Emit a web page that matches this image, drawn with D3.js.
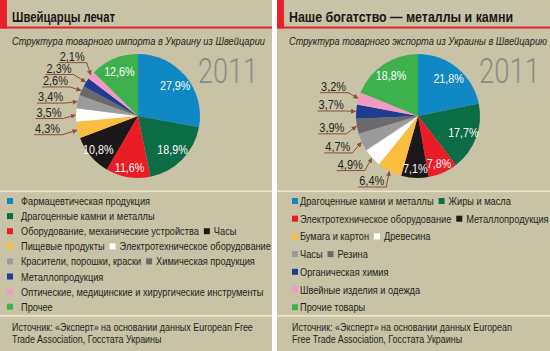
<!DOCTYPE html>
<html><head><meta charset="utf-8">
<script src="https://cdn.jsdelivr.net/npm/d3@7"></script>
<style>body{margin:0;background:#fff}svg{display:block}</style>
</head><body>
<script>
// ---------- DATA ----------
const leftCategories = ["Фармацевтическая продукция", "Драгоценные камни и металлы", "Оборудование, механические устройства", "Часы", "Пищевые продукты", "Электротехническое оборудование", "Красители, порошки, краски", "Химическая продукция", "Металлопродукция", "Оптические, медицинские и хирургические инструменты", "Прочее"];
const leftValues = [27.9, 18.9, 11.6, 10.8, 4.3, 3.5, 3.4, 2.6, 2.3, 2.1, 12.6];
const rightCategories = ["Драгоценные камни и металлы", "Жиры и масла", "Электротехническое оборудование", "Металлопродукция", "Бумага и картон", "Древесина", "Часы", "Резина", "Органическая химия", "Швейные изделия и одежда", "Прочие товары"];
const rightValues = [21.8, 17.7, 7.8, 7.1, 6.4, 4.9, 4.7, 3.9, 3.7, 3.2, 18.8];
const sliceColors = ["#0f88c4", "#0b6c45", "#ec1c26", "#1c1819", "#fbbd3e", "#ffffff", "#9b9b9d", "#6a6a6c", "#1f3c92", "#f29ac2", "#3db14b"];
const yearLabel = "2011";
const leftTitle = "Швейцарцы лечат";
const leftSubtitle = "Структура товарного импорта в Украину из Швейцарии";
const rightTitle = "Наше богатство — металлы и камни";
const rightSubtitle = "Структура товарного экспорта из Украины в Швейцарию";
const leftSource = ["Источник: «Эксперт» на основании данных European Free", "Trade Association, Госстата Украины"];
const rightSource = ["Источник: «Эксперт» на основании данных European", "Free Trade Association, Госстата Украины"];

// ---------- LAYOUT ----------
const W = 550, H = 351;
const BG = "#c8c2a6", RED = "#e8202a", LINE = "#eee7ca", ARROW = "#8c5038";
const FONT = "'Liberation Sans', Arial, sans-serif";
const panels = [
  {x0: 0, w: 272, title: leftTitle, titleW: 103, sub: leftSubtitle, subW: 253, textX: 12,
   cats: leftCategories, vals: leftValues, cx: 138, cy: 116, r: 62, yearX: 198, yearW: 60,
   rows: [[0],[1],[2,3],[4,5],[6,7],[8],[9],[10]], legTop: 201, legStep: 15.1, swX: 7, legX: 21,
   callouts: {4:[-17,-2],5:[-14,-3],6:[-14,-5],7:[-13,-10],8:[-14,-14],9:[-6,-19]},
   source: leftSource, srcX: 12},
  {x0: 277, w: 273, title: rightTitle, titleW: 224, sub: rightSubtitle, subW: 258, textX: 289,
   cats: rightCategories, vals: rightValues, cx: 418, cy: 116, r: 62, yearX: 479, yearW: 61,
   rows: [[0,1],[2,3],[4,5],[6,7],[8],[9],[10]], legTop: 201, legStep: 17.7, swX: 292, legX: 300,
   callouts: {4:[-5,9],5:[-9,6],6:[-11,4],7:[-12,1],8:[-12,-7],9:[-12,-12]},
   source: rightSource, srcX: 292}
];

const svg = d3.select("body").append("svg").attr("width", W).attr("height", H)
  .style("font-family", FONT);
svg.append("rect").attr("width", W).attr("height", H).attr("fill", "#fff");
const defs = svg.append("defs");
defs.append("marker").attr("id", "arr").attr("viewBox", "0 0 6 6")
  .attr("refX", 5.5).attr("refY", 3).attr("markerWidth", 5).attr("markerHeight", 5)
  .attr("markerUnits", "userSpaceOnUse").attr("orient", "auto")
  .append("path").attr("d", "M0,0L6,3L0,6Z").attr("fill", ARROW);

function stext(g, x, y, str, size, sx, opts = {}) {
  const t = g.append("text")
    .attr("transform", `translate(${x},${y}) scale(${sx},1)`)
    .attr("font-size", size).attr("fill", opts.fill || "#231f20")
    .attr("font-weight", opts.weight || "normal")
    .attr("text-anchor", opts.anchor || "start")
    .text(str);
  if (opts.style) t.attr("font-style", opts.style);
  return t;
}
function measure(str, size, weight) {
  const t = svg.append("text").attr("font-size", size).attr("font-weight", weight || "normal").text(str);
  const w = t.node().getComputedTextLength();
  t.remove();
  return w;
}
const legSx = (245 / measure(leftCategories[9], 11) + 150 / measure(leftCategories[5], 11)) / 2;
const srcSx = 241 / measure(leftSource[0], 11);
const fmt = v => v.toFixed(1).replace(".", ",") + "%";

panels.forEach(p => {
  const g = svg.append("g");
  g.append("rect").attr("x", p.x0).attr("y", 0).attr("width", p.w).attr("height", H).attr("fill", BG);
  // header
  g.append("rect").attr("x", p.x0).attr("y", 0).attr("width", 7).attr("height", 28.5).attr("fill", RED);
  g.append("rect").attr("x", p.x0).attr("y", 26.5).attr("width", p.w).attr("height", 2).attr("fill", RED);
  g.append("text").attr("x", p.textX).attr("y", 22).attr("font-size", 14.5).attr("font-weight", "bold")
    .attr("fill", "#1a1718").attr("textLength", p.titleW).attr("lengthAdjust", "spacingAndGlyphs").text(p.title);
  g.append("text").attr("x", p.textX).attr("y", 44.5).attr("font-size", 11.5).attr("font-style", "italic")
    .attr("fill", "#231f20").attr("textLength", p.subW).attr("lengthAdjust", "spacingAndGlyphs").text(p.sub);
  // year
  g.append("text").attr("x", p.yearX).attr("y", 83).attr("font-size", 35).attr("font-family", "Roboto, " + FONT)
    .attr("font-weight", 300).attr("fill", "#8b8b8a").attr("textLength", p.yearW)
    .attr("lengthAdjust", "spacingAndGlyphs").text(yearLabel);

  // pie
  const pie = d3.pie().sort(null).value(d => d)(p.vals);
  const arc = d3.arc().innerRadius(0).outerRadius(p.r);
  const pg = g.append("g").attr("transform", `translate(${p.cx},${p.cy})`);
  pg.selectAll("path").data(pie).join("path").attr("d", arc)
    .attr("fill", (d, i) => sliceColors[i]);
  pie.forEach((d, i) => {
    if (d.data >= 7) {
      const lr = p.r * (d.data < 12 ? 0.84 : 0.78);
      const la = d3.arc().innerRadius(lr).outerRadius(lr);
      const [lx, ly] = la.centroid(d);
      stext(pg, lx, ly + 4.5, fmt(d.data), 12.5, 0.86, {fill: "#fff", anchor: "middle"});
    }
  });
  // callouts
  Object.keys(p.callouts).forEach(k => {
    const d = pie[+k];
    const a = (d.startAngle + d.endAngle) / 2;
    const ex = p.cx + (p.r + 0.5) * Math.sin(a), ey = p.cy - (p.r + 0.5) * Math.cos(a);
    const [dx, dy] = p.callouts[k];
    const tx = ex + dx, ty = ey + dy;
    const t = stext(g, tx, ty + 4.5, fmt(d.data), 12.5, 0.88, {anchor: "end", fill: "#231f20"});
    const tw = t.node().getComputedTextLength() * 0.88;
    g.append("path")
      .attr("d", `M${tx - tw - 1},${ty + 6.5}L${tx + 2},${ty + 6.5}L${ex},${ey}`)
      .attr("fill", "none").attr("stroke", ARROW).attr("stroke-width", 1)
      .attr("marker-end", "url(#arr)");
  });

  // separators
  g.append("rect").attr("x", p.x0).attr("y", 190.5).attr("width", p.w).attr("height", 1.6).attr("fill", LINE);
  g.append("rect").attr("x", p.x0).attr("y", 315).attr("width", p.w).attr("height", 1.6).attr("fill", LINE);

  // legend
  p.rows.forEach((row, ri) => {
    const cyRow = p.legTop + ri * p.legStep;
    let x = p.swX;
    row.forEach((ci, j) => {
      if (j > 0) x += 5;
      g.append("rect").attr("x", x).attr("y", cyRow - 3).attr("width", 6).attr("height", 6)
        .attr("fill", sliceColors[ci]);
      const tx = j === 0 ? p.legX : x + 10;
      const t = stext(g, tx, cyRow + 4, p.cats[ci], 11, legSx);
      x = tx + t.node().getComputedTextLength() * legSx;
    });
  });
  // source
  p.source.forEach((s, i) => {
    stext(g, p.srcX, 331 + i * 12.3, s, 11, srcSx);
  });
});
</script>
</body></html>
